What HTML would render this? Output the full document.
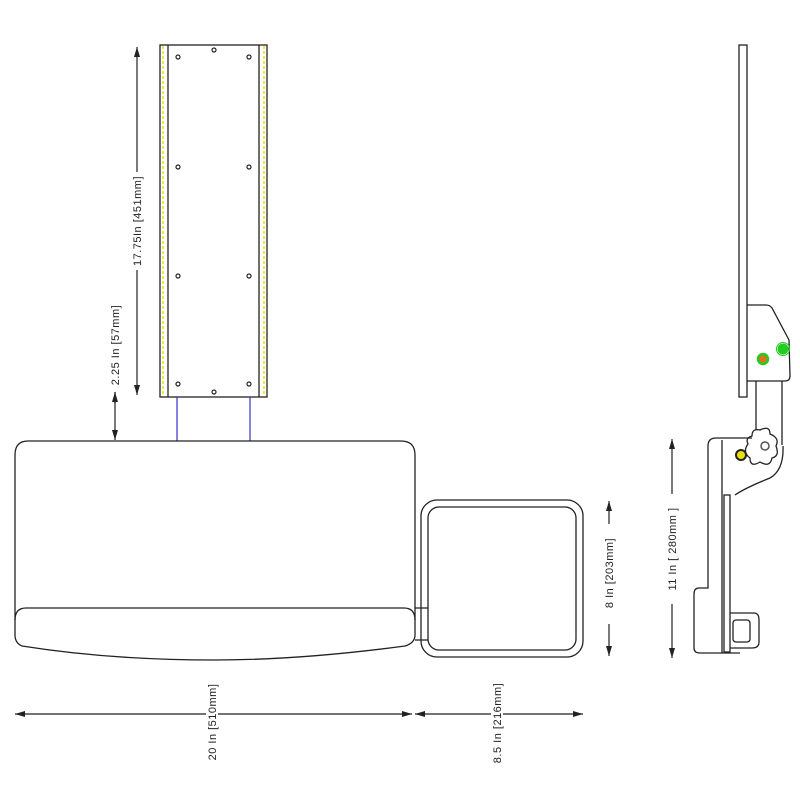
<!DOCTYPE html>
<html><head><meta charset="utf-8"><style>
html,body{margin:0;padding:0;background:#fff;width:800px;height:800px;overflow:hidden}
svg{display:block}
text{font-family:"Liberation Sans",sans-serif;font-size:11px;fill:#222;letter-spacing:0.5px}
</style></head><body>
<svg width="800" height="800" viewBox="0 0 800 800" xmlns="http://www.w3.org/2000/svg">
<defs>
<marker id="a" viewBox="0 0 10 6" refX="10" refY="3" markerWidth="10" markerHeight="6" orient="auto-start-reverse" markerUnits="userSpaceOnUse"><path d="M0,0 L10,3 L0,6 z" fill="#222"/></marker>
</defs>
<g fill="none" stroke="#222" stroke-width="1.3">
<rect x="160" y="45" width="107" height="352"/>
<line x1="168" y1="45" x2="168" y2="397"/>
<line x1="259" y1="45" x2="259" y2="397"/>
</g>
<line x1="163" y1="46" x2="163" y2="396" stroke="#e8e000" stroke-width="1.5" stroke-dasharray="3,2"/>
<line x1="264" y1="46" x2="264" y2="396" stroke="#e8e000" stroke-width="1.5" stroke-dasharray="3,2"/>
<g fill="#fff" stroke="#222" stroke-width="1.2">
<circle cx="178" cy="57" r="2"/><circle cx="214" cy="50" r="2"/><circle cx="249" cy="57" r="2"/>
<circle cx="178" cy="167" r="2"/><circle cx="249" cy="167" r="2"/>
<circle cx="178" cy="276" r="2"/><circle cx="249" cy="276" r="2"/>
<circle cx="178" cy="384" r="2"/><circle cx="214" cy="392" r="2"/><circle cx="249" cy="384" r="2"/>
</g>
<line x1="177" y1="397" x2="177" y2="441" stroke="#33c" stroke-width="1.2"/>
<line x1="250" y1="397" x2="250" y2="441" stroke="#33c" stroke-width="1.2"/>
<g stroke="#222" stroke-width="1.2" fill="none">
<line x1="137" y1="47" x2="137" y2="395" marker-start="url(#a)" marker-end="url(#a)"/>
<line x1="115" y1="392" x2="115" y2="440" marker-end="url(#a)"/>
<line x1="115" y1="392" x2="115" y2="404" marker-start="url(#a)"/>
</g>
<rect x="131" y="172" width="12" height="98" fill="#fff"/>
<text transform="translate(141,221) rotate(-90)" text-anchor="middle">17.75In [451mm]</text>
<text transform="translate(119,345) rotate(-90)" text-anchor="middle">2.25  In  [57mm]</text>
<g fill="none" stroke="#222" stroke-width="1.3">
<path d="M28,441 L401,441 Q415,441 415,455 L415,635 Q415,643 405,646 Q300,660 215,660 Q110,660 22,646 Q15,643 15,635 L15,455 Q15,441 28,441 Z"/>
<path d="M15,620 Q15,608 26,608 L404,608 Q415,608 415,620"/>
<line x1="415" y1="608" x2="428" y2="608"/>
<line x1="415" y1="640" x2="428" y2="640"/>
<rect x="421" y="500" width="162" height="157" rx="16"/>
<rect x="428" y="507" width="148" height="143" rx="11"/>
</g>
<g stroke="#222" stroke-width="1.2" fill="none">
<line x1="15" y1="714" x2="412" y2="714" marker-start="url(#a)" marker-end="url(#a)"/>
<line x1="415" y1="714" x2="583" y2="714" marker-start="url(#a)" marker-end="url(#a)"/>
<line x1="609" y1="501" x2="609" y2="656" marker-start="url(#a)" marker-end="url(#a)"/>
</g>
<rect x="206" y="676" width="12" height="92" fill="#fff"/>
<text transform="translate(216,722) rotate(-90)" text-anchor="middle">20  In  [510mm]</text>
<rect x="491" y="676" width="12" height="94" fill="#fff"/>
<text transform="translate(501,723) rotate(-90)" text-anchor="middle">8.5  In  [216mm]</text>
<rect x="603" y="524" width="12" height="100" fill="#fff"/>
<text transform="translate(613,573) rotate(-90)" text-anchor="middle">8  In  [203mm]</text>
<g fill="none" stroke="#222" stroke-width="1.3">
<rect x="739" y="45" width="8" height="352"/>
<path d="M747,305 L766,305 Q770,305 772,308 L789,340 L790,376 Q790,381 785,381 L747,381"/>
<line x1="756" y1="381" x2="756" y2="430"/>
<line x1="782" y1="381" x2="782" y2="445"/>
<path d="M752,436 Q752,428 760,430 Q770,425 770,434 Q780,438 776,446 Q780,456 772,458 Q770,468 760,462 Q750,468 750,458 Q742,452 748,444 Q745,438 752,436 Z"/>
<path d="M783,446 Q784,470 770,478 Q745,488 735,495"/>
<path d="M716,438 L752,438"/>
<path d="M716,438 Q708,438 708,446 L708,588 L699,588 Q694,588 694,594 L694,648 Q694,653 700,653 L740,653"/>
<line x1="722" y1="440" x2="722" y2="653"/>
<rect x="724" y="495" width="6" height="157"/>
<path d="M730,613 L754,613 Q759,613 759,620 L759,642 Q759,648 752,648 L730,648"/>
<rect x="733" y="620" width="17" height="22" rx="3"/>
</g>
<circle cx="765" cy="446" r="4" fill="#fff" stroke="#555" stroke-width="1.5"/>
<circle cx="741" cy="455" r="5" fill="#e8e000" stroke="#222" stroke-width="2"/>
<circle cx="763" cy="359" r="5" fill="#e07020" stroke="#2c2" stroke-width="2.5"/>
<circle cx="783" cy="349" r="5" fill="#2c2" stroke="#2c2" stroke-width="1"/>
<circle cx="783" cy="349" r="6.5" fill="none" stroke="#2c2" stroke-width="1"/>
<line x1="672" y1="439" x2="672" y2="658" stroke="#222" stroke-width="1.2" marker-start="url(#a)" marker-end="url(#a)"/>
<rect x="666" y="494" width="12" height="110" fill="#fff"/>
<text transform="translate(676,549) rotate(-90)" text-anchor="middle">11  In  [ 280mm ]</text>
</svg>
</body></html>
